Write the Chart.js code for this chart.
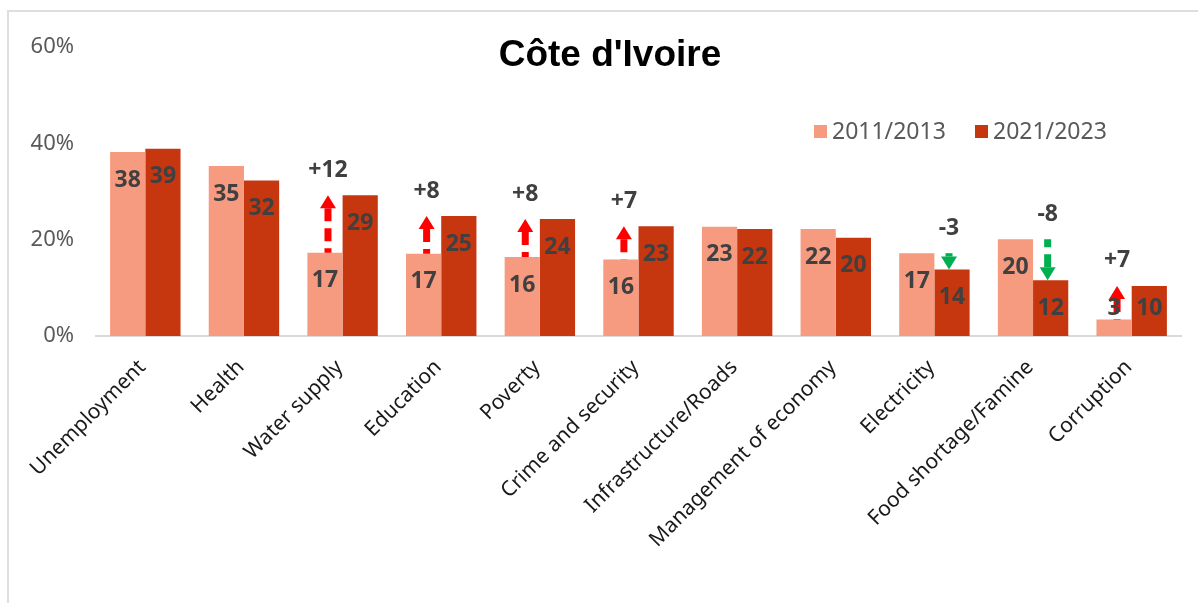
<!DOCTYPE html>
<html>
<head>
<meta charset="utf-8">
<script src="https://cdn.jsdelivr.net/npm/chart.js@4.4.1/dist/chart.umd.min.js"></script>
<style>
  html, body { margin: 0; padding: 0; background: #fff; overflow: hidden; }
  #frame { position: absolute; left: 7px; top: 10px; width: 1300px; height: 700px;
           border-left: 2px solid #dedede; border-top: 2px solid #dedede; }
  #wrap { position: absolute; left: 0; top: 0; width: 1198px; height: 603px; }
</style>
</head>
<body>
<div id="frame"></div>
<div id="wrap"><canvas id="chart"></canvas></div>
<script>
const categories = ['Unemployment', 'Health', 'Water supply', 'Education', 'Poverty',
  'Crime and security', 'Infrastructure/Roads', 'Management of economy', 'Electricity',
  'Food shortage/Famine', 'Corruption'];
const seriesNames = ['2011/2013', '2021/2023'];
const series2011 = [38.2, 35.3, 17.3, 17.1, 16.4, 15.9, 22.7, 22.2, 17.2, 20.1, 3.4];
const series2021 = [38.9, 32.3, 29.2, 24.9, 24.3, 22.8, 22.2, 20.4, 13.8, 11.6, 10.4];
// which categories get a change arrow and +/- label
const showChange = [false, false, true, true, true, true, false, false, true, true, true];
const yTicks = [0, 20, 40, 60];

const colors = ['#f69a80', '#c6360f'];
const labelColor = '#404040';

function drawArrow(ctx, x, yFrom, yTo, color) {
  const dir = yTo < yFrom ? -1 : 1;   // -1 = pointing up
  const headH = 13, headW = 16, shaftW = 7;
  const headBase = yTo - dir * headH;
  ctx.fillStyle = color;
  ctx.beginPath();
  ctx.moveTo(x, yTo);
  ctx.lineTo(x - headW / 2, headBase);
  ctx.lineTo(x + headW / 2, headBase);
  ctx.closePath();
  ctx.fill();
  if ((headBase - yFrom) * dir > 0) {
    ctx.strokeStyle = color;
    ctx.lineWidth = shaftW;
    ctx.lineCap = 'butt';
    ctx.setLineDash([13, 7]);
    ctx.beginPath();
    ctx.moveTo(x, headBase);
    ctx.lineTo(x, yFrom);
    ctx.stroke();
    ctx.setLineDash([]);
  }
}

const annotate = {
  id: 'annotate',
  afterDatasetsDraw(chart) {
    const ctx = chart.ctx;
    const y = chart.scales.y;
    const base = y.getPixelForValue(0);
    const bars0 = chart.getDatasetMeta(0).data;
    const bars1 = chart.getDatasetMeta(1).data;
    ctx.save();

    // change arrows between the two periods
    categories.forEach((c, i) => {
      if (!showChange[i]) return;
      const diff = Math.round(series2021[i]) - Math.round(series2011[i]);
      const yFrom = y.getPixelForValue(series2011[i]);
      const yTo = y.getPixelForValue(series2021[i]);
      const up = diff > 0;
      const x = up ? bars0[i].x + 3 : bars1[i].x - 3;
      drawArrow(ctx, x, yFrom, yTo, up ? '#ff0000' : '#00b050');

      ctx.fillStyle = labelColor;
      ctx.font = 'bold 23px "Noto Sans"';
      ctx.textAlign = 'center';
      ctx.textBaseline = 'middle';
      ctx.fillText((up ? '+' : '') + diff, x, Math.min(yFrom, yTo) - 25);
    });

    // value labels inside the bar tops
    ctx.font = 'bold 23px "Noto Sans"';
    ctx.fillStyle = labelColor;
    ctx.textAlign = 'center';
    ctx.textBaseline = 'middle';
    [series2011, series2021].forEach((vals, d) => {
      const bars = d === 0 ? bars0 : bars1;
      vals.forEach((v, i) => {
        const ly = Math.min(bars[i].y + 28, base - 28);
        ctx.fillText(String(Math.round(v)), bars[i].x, ly);
      });
    });
    ctx.restore();
  },
  afterDraw(chart) {
    const ctx = chart.ctx;
    ctx.save();
    // title
    ctx.fillStyle = '#000';
    ctx.font = 'bold 37px "Liberation Sans"';
    ctx.textAlign = 'center';
    ctx.textBaseline = 'middle';
    ctx.fillText("Côte d'Ivoire", 610, 56);

    // legend
    ctx.font = '23px "Noto Sans"';
    ctx.textAlign = 'left';
    const legendX = [814, 975];
    seriesNames.forEach((name, i) => {
      ctx.fillStyle = colors[i];
      ctx.fillRect(legendX[i], 125, 13, 13);
      ctx.fillStyle = '#595959';
      ctx.fillText(name, legendX[i] + 18, 132);
    });
    ctx.restore();
  }
};

new Chart(document.getElementById('chart'), {
  type: 'bar',
  data: {
    labels: categories,
    datasets: [
      { label: seriesNames[0], data: series2011, backgroundColor: colors[0],
        categoryPercentage: 0.714, barPercentage: 1 },
      { label: seriesNames[1], data: series2021, backgroundColor: colors[1],
        categoryPercentage: 0.714, barPercentage: 1 }
    ]
  },
  options: {
    responsive: true,
    maintainAspectRatio: false,
    animation: false,
    layout: { padding: { top: 47, right: 17, bottom: 0, left: 0 } },
    plugins: {
      legend: { display: false },
      title: { display: false },
      tooltip: { enabled: false }
    },
    scales: {
      x: {
        grid: { display: false, drawTicks: false },
        border: { display: true, color: '#d9d9d9', width: 2 },
        ticks: {
          color: '#1a1a1a',
          font: { family: 'Noto Sans', size: 21 },
          minRotation: 45,
          maxRotation: 45,
          labelOffset: -3,
          padding: 19,
          autoSkip: false
        },
        afterFit(scale) { scale.height = 267; }
      },
      y: {
        min: 0,
        max: 60,
        afterBuildTicks(scale) { scale.ticks = yTicks.map(v => ({ value: v })); },
        grid: { display: false, drawTicks: false },
        border: { display: false },
        ticks: {
          color: '#595959',
          font: { family: 'Noto Sans', size: 22 },
          padding: 22,
          callback: v => v + '%'
        },
        afterFit(scale) { scale.width = 96; }
      }
    }
  },
  plugins: [annotate]
});
</script>
</body>
</html>
